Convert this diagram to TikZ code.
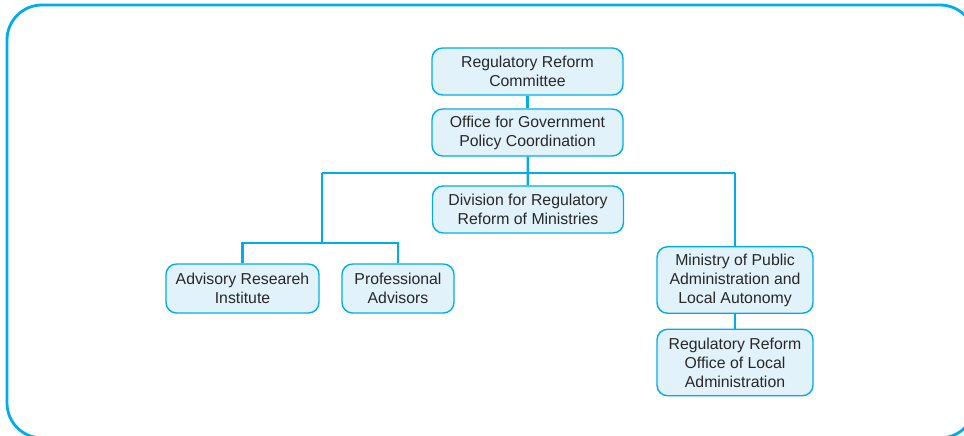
\documentclass[tikz,border=0pt]{standalone}
\usepackage{xcolor}
\usepackage{fontspec}
\setmainfont{Liberation Sans}
\usepackage{tikz}
\usetikzlibrary{positioning, calc}
\definecolor{orgline}{RGB}{0,172,236}
\definecolor{orgfill}{RGB}{225,242,250}
\definecolor{orgtext}{RGB}{40,40,40}
\tikzset{
  orgbox/.style={rectangle, draw=orgline, fill=orgfill, text=orgtext,
    align=center, minimum width=3.82cm, minimum height=0.94cm,
    inner sep=1pt, font=\fontsize{9}{10.8}\selectfont,
    rounded corners=6pt, line width=0.8pt},
  smallbox/.style={orgbox, minimum width=3.06cm, minimum height=0.98cm},
  tallbox/.style={orgbox, minimum width=3.12cm, minimum height=1.33cm},
  line/.style={line width=1.3pt, color=orgline},
  frame/.style={line width=1.6pt, color=orgline, rounded corners=0.7cm}
}
\begin{document}
\begin{tikzpicture}[x=0.02cm, y=-0.02cm]
  \useasboundingbox (0,0) rectangle (964,436);
  \clip (0,0) rectangle (964,436);
  % outer frame, runs off the right and bottom edges
  \draw[frame] (7,5) rectangle (975,438);
  % top of the chart
  \node[orgbox] (committee) at (527.5,71.5) {Regulatory Reform\\Committee};
  \node[orgbox] (office) at (527.5,132.5) {Office for Government\\Policy Coordination};
  \node[orgbox] (division) at (528,209.5) {Division for Regulatory\\Reform of Ministries};
  % left branch
  \node[smallbox] (advisory) at (242.5,288.5) {Advisory Researeh\\Institute};
  \node[smallbox, minimum width=2.24cm] (professional) at (398,288.5) {Professional\\Advisors};
  % right branch
  \node[tallbox] (ministry) at (735,280) {Ministry of Public\\Administration and\\Local Autonomy};
  \node[tallbox] (localoffice) at (735,362.5) {Regulatory Reform\\Office of Local\\Administration};
  % connectors
  \coordinate (busL) at (322,173);
  \coordinate (busR) at (735,173);
  \coordinate (subL) at (322,243);
  \draw[line] (committee) -- (office);
  \draw[line] (office) -- (division);
  \draw[line] (busL) -- (busR);
  \draw[line] (busL) -- (subL);
  \draw[line] (advisory.north) |- (subL) -| (professional.north);
  \draw[line] (busR) -- (ministry);
  \draw[line] (ministry) -- (localoffice);
\end{tikzpicture}
\end{document}
